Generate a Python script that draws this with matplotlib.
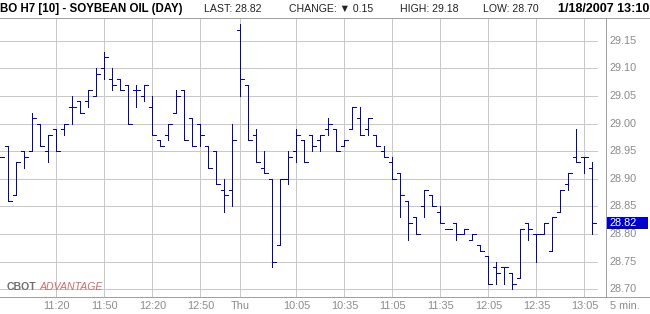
import matplotlib
matplotlib.use("Agg")
import matplotlib.pyplot as plt
from matplotlib.lines import Line2D
from matplotlib.patches import Rectangle

# ---------------- data ----------------
opens = [28.94, 28.96, 28.87, 28.95, 28.95, 29.00, 28.95, 28.99, 28.99, 29.03,
         29.04, 29.04, 29.05, 29.10, 29.08, 29.08, 29.07, 29.06, 29.05, 29.03,
         28.97, 28.98, 29.02, 29.06, 29.01, 29.00, 28.96, 28.95, 28.88, 28.88,
         29.17, 29.07, 28.98, 28.92, 28.90, 28.78, 28.90, 28.95, 28.97, 28.98,
         28.97, 28.99, 28.99, 28.96, 28.99, 29.01, 28.99, 28.98, 28.95, 28.93,
         28.91, 28.86, 28.83, 28.85, 28.87, 28.84, 28.81, 28.82, 28.80, 28.79,
         28.78, 28.76, 28.74, 28.74, 28.73, 28.72, 28.82, 28.80, 28.80, 28.77,
         28.84, 28.89, 28.94, 28.94, 28.92]
highs = [28.94, 28.96, 28.93, 28.95, 29.02, 29.00, 28.98, 28.99, 29.00, 29.05,
         29.04, 29.06, 29.10, 29.13, 29.10, 29.08, 29.07, 29.07, 29.07, 29.05,
         28.97, 29.00, 29.06, 29.06, 29.01, 29.00, 28.96, 28.95, 28.90, 29.00,
         29.18, 29.07, 28.99, 28.95, 28.90, 28.90, 28.95, 28.99, 28.97, 28.98,
         28.98, 29.01, 28.99, 28.97, 29.03, 29.03, 29.01, 28.98, 28.96, 28.94,
         28.91, 28.86, 28.83, 28.88, 28.87, 28.85, 28.81, 28.82, 28.81, 28.80,
         28.78, 28.76, 28.75, 28.74, 28.73, 28.81, 28.82, 28.80, 28.82, 28.83,
         28.88, 28.91, 28.99, 28.94, 28.93]
lows = [28.94, 28.86, 28.87, 28.92, 28.95, 28.96, 28.93, 28.95, 28.98, 29.00,
        29.02, 29.03, 29.05, 29.08, 29.06, 29.06, 29.00, 29.03, 29.04, 28.98,
        28.96, 28.97, 29.02, 28.97, 28.96, 28.96, 28.92, 28.89, 28.84, 28.85,
        29.05, 28.97, 28.93, 28.91, 28.74, 28.78, 28.89, 28.93, 28.93, 28.95,
        28.95, 28.98, 28.95, 28.96, 28.99, 28.98, 28.98, 28.96, 28.94, 28.90,
        28.83, 28.79, 28.80, 28.83, 28.85, 28.82, 28.81, 28.79, 28.80, 28.79,
        28.77, 28.71, 28.71, 28.71, 28.70, 28.72, 28.79, 28.75, 28.80, 28.77,
        28.84, 28.88, 28.93, 28.91, 28.80]
closes = [28.94, 28.86, 28.93, 28.94, 29.01, 28.96, 28.98, 28.95, 29.00, 29.03,
          29.02, 29.06, 29.09, 29.12, 29.07, 29.06, 29.00, 29.06, 29.07, 28.98,
          28.96, 29.00, 29.05, 28.97, 28.96, 28.98, 28.92, 28.89, 28.87, 28.97,
          29.08, 28.97, 28.93, 28.91, 28.75, 28.90, 28.94, 28.98, 28.93, 28.96,
          28.98, 29.00, 28.95, 28.97, 29.03, 28.98, 29.01, 28.96, 28.94, 28.90,
          28.87, 28.82, 28.80, 28.88, 28.85, 28.82, 28.81, 28.80, 28.81, 28.80,
          28.77, 28.71, 28.73, 28.74, 28.71, 28.81, 28.81, 28.80, 28.82, 28.83,
          28.88, 28.91, 28.93, 28.94, 28.82]
price_ticks = [29.15, 29.10, 29.05, 29.00, 28.95, 28.90, 28.85, 28.80, 28.75, 28.70]
time_labels = ["11:20", "11:50", "12:20", "12:50", "Thu", "10:05", "10:35",
               "11:05", "11:35", "12:05", "12:35", "13:05"]
time_label_bars = [7, 13, 19, 25, 30, 37, 43, 49, 55, 61, 67, 73]
last_price = "28.82"

# ---------------- layout helpers ----------------
W, H = 650, 314
fig = plt.figure(figsize=(W / 100, H / 100), dpi=100)
fig.patch.set_facecolor("white")

def fx(px):
    return px / W

def fy(py):
    return 1 - py / H

AX_L, AX_R, AX_T, AX_B = 0.0, 605.7, 17.5, 296.7
ax = fig.add_axes([fx(AX_L), fy(AX_B), fx(AX_R - AX_L), (AX_B - AX_T) / H])
for s in ax.spines.values():
    s.set_visible(False)
ax.set_xticks([])
ax.set_yticks([])

n = len(closes)
xs = list(range(n))
ax.set_xlim(-0.0625, -0.0625 + (AX_R - AX_L) / 8.0)
ax.set_ylim(28.6866, 29.192)

LW = 0.68
GRID = "#c8c8c8"
BAR = "#0000cc"
TXT = "#8a8a8a"

# grid
ax.hlines(price_ticks, -0.0625, 74.54, colors=GRID, lw=LW, antialiased=False, zorder=1)
ax.vlines(time_label_bars, 28.6866, 29.192, colors=GRID, lw=LW, antialiased=False, zorder=1)

# OHLC bars
ax.vlines(xs, lows, highs, colors=BAR, lw=LW, antialiased=False, zorder=3)
ax.hlines(opens, [x - 0.42 for x in xs], xs, colors=BAR, lw=LW, antialiased=False, zorder=3)
ax.hlines(closes, xs, [x + 0.45 for x in xs], colors=BAR, lw=LW, antialiased=False, zorder=3)

# frame lines
def fline(x0, y0, x1, y1, color="#a0a0a0"):
    fig.add_artist(Line2D([fx(x0), fx(x1)], [fy(y0), fy(y1)], color=color,
                          lw=LW, antialiased=False))

fline(0, AX_T, W, AX_T)
fline(AX_R, AX_T, AX_R, AX_B)
fline(0, AX_B, W, AX_B)
fline(0, 313.5, W, 313.5, "#c8c8c8")

FONT = ["Liberation Sans", "DejaVu Sans"]

# right price labels
for p in price_ticks:
    yy = ax.transData.transform((0, p))[1] / H
    fig.text(fx(609.5), yy, f"{p:.2f}", color=TXT, fontsize=7.8, family=FONT,
             ha="left", va="center")

# last price box
fig.add_artist(Rectangle((fx(606.7), fy(229.2)), fx(648.2 - 606.7), (229.2 - 216.6) / H,
                         facecolor="#0000cc", edgecolor="none"))
yy = ax.transData.transform((0, float(last_price)))[1] / H
fig.text(fx(609.5), yy, last_price, color="white", fontsize=7.8, family=FONT,
         ha="left", va="center", zorder=5)

# time labels
for lab, b in zip(time_labels, time_label_bars):
    xx = ax.transData.transform((b, 0))[0] / W
    fig.text(xx, fy(306), lab, color=TXT, fontsize=7.8, family=FONT,
             ha="center", va="center")
fig.text(fx(610), fy(306), "5 min.", color=TXT, fontsize=7.8, family=FONT,
         ha="left", va="center")

# header
hy = fy(8.6)
fig.text(fx(0.5), hy, "BO H7 [10] - SOYBEAN OIL (DAY)", color="black", fontsize=8.3,
         fontweight="bold", family=FONT, ha="left", va="center")
fig.text(fx(204), hy, "LAST: 28.82", color="#222222", fontsize=7.6, family=FONT,
         ha="left", va="center")
fig.text(fx(289), hy, "CHANGE: \u25bc 0.15", color="#222222", fontsize=7.6, family=FONT,
         ha="left", va="center")
fig.text(fx(400), hy, "HIGH: 29.18", color="#222222", fontsize=7.6, family=FONT,
         ha="left", va="center")
fig.text(fx(483), hy, "LOW: 28.70", color="#222222", fontsize=7.6, family=FONT,
         ha="left", va="center")
fig.text(fx(649.5), hy, "1/18/2007 13:10", color="black", fontsize=9.0,
         fontweight="bold", family=FONT, ha="right", va="center")

# logo
fig.text(fx(7), fy(287), "CBOT", color="#707070", fontsize=7.6, fontweight="bold",
         family=FONT, ha="left", va="center")
fig.text(fx(39.5), fy(287), "ADVANTAGE", color="#d06a6a", fontsize=7.6,
         fontstyle="italic", family=FONT, ha="left", va="center")

fig.savefig("out.png", dpi=100, facecolor="white")
